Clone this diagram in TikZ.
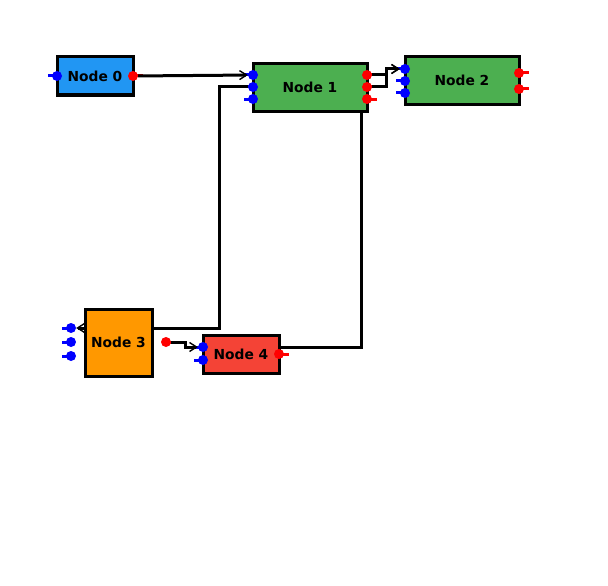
\documentclass[tikz,border=0pt]{standalone}
\usepackage{fontspec}
\setmainfont{DejaVu Sans}
\usetikzlibrary{arrows.meta}

\definecolor{boxblue}{HTML}{2196F3}
\definecolor{boxgreen}{HTML}{4CAF50}
\definecolor{boxorange}{HTML}{FF9800}
\definecolor{boxred}{HTML}{F44336}
\definecolor{portblue}{HTML}{0000FF}
\definecolor{portred}{HTML}{FF0000}

\pgfdeclarelayer{background}
\pgfsetlayers{background,main}

\tikzset{
  box/.style={draw=black, line width=3pt, inner sep=0pt,
    font=\fontsize{13.8}{16}\selectfont\bfseries},
  inport/.style={circle, fill=portblue, inner sep=0pt, minimum size=10pt},
  outport/.style={circle, fill=portred, inner sep=0pt, minimum size=10pt},
  instub/.style={draw=portblue, line width=3pt},
  outstub/.style={draw=portred, line width=3pt},
  wire/.style={draw=black, line width=3pt},
  link/.style={wire, -{Straight Barb[length=7pt,width=9pt,line width=1.4pt]}}
}

\begin{document}
\begin{tikzpicture}[x=1pt,y=-1pt]
\useasboundingbox (0,0) rectangle (608,586);

% Boxes
\node[box, fill=boxblue, minimum width=76pt, minimum height=38pt] (n0) at (95,76) {Node 0};
\node[box, fill=boxgreen, minimum width=114pt, minimum height=47pt] (n1) at (310,87.5) {Node 1};
\node[box, fill=boxgreen, minimum width=114pt, minimum height=47pt] (n2) at (462,80.5) {Node 2};
\node[box, fill=boxorange, minimum width=67pt, minimum height=67pt] (n3) at (118.5,342.5) {Node 3};
\node[box, fill=boxred, minimum width=76pt, minimum height=38pt] (n4) at (241,354) {Node 4};

% Input ports
\foreach \p/\x/\y in {n0i0/57/76, n1i0/253/75, n1i1/253/87, n1i2/253/99,
    n2i0/405/69, n2i1/405/81, n2i2/405/93,
    n3i0/71/328, n3i1/71/342, n3i2/71/356, n4i0/203/347, n4i1/203/360}
  \node[inport] (\p) at (\x,\y) {};

% Output ports
\foreach \p/\x/\y in {n0o0/133/76, n1o0/367/75, n1o1/367/87, n1o2/367/99,
    n2o0/519/73, n2o1/519/89, n3o0/166/342, n4o0/279/354}
  \node[outport] (\p) at (\x,\y) {};

% Stubs
\begin{pgfonlayer}{background}
\foreach \p in {n0i0, n1i0, n1i1, n1i2, n2i0, n2i1, n2i2, n3i0, n3i1, n3i2, n4i0, n4i1}
  \draw[instub] (\p.center) -- ++(-9,0);
\foreach \p in {n0o0, n1o0, n1o1, n1o2, n2o0, n2o1, n3o0, n4o0}
  \draw[outstub] (\p.center) -- ++(10,0);
\end{pgfonlayer}

% Connections
\begin{pgfonlayer}{background}
\draw[link] (n0o0) -- (n1i0);
\draw[link] (n1o0) -- ++(19,0) |- (n2i0);
\draw[link] (n1o1) -- ++(19,0) |- (n2i0);
\draw[link] (n1i1) -- ++(-34,0) |- (n3i0);
\draw[link] (n3o0) -- ++(19,0) |- (n4i0);
\draw[wire] (n1o2) -- ++(-6,0) |- (n4i0);
\end{pgfonlayer}

\end{tikzpicture}
\end{document}
